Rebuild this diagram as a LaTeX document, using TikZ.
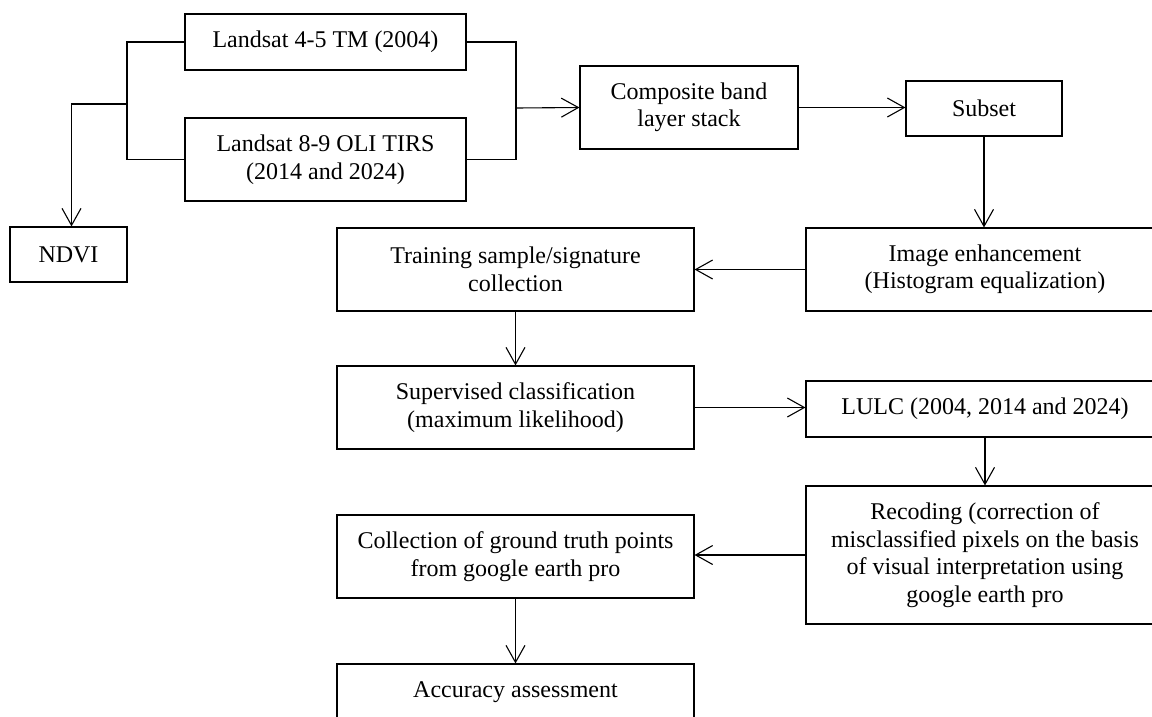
\documentclass[tikz,border=0pt]{standalone}
\usepackage{fontspec}
\setmainfont{Liberation Serif}
\usetikzlibrary{arrows.meta}
\tikzset{
  box/.style={draw=black, line width=1.1pt, rectangle, inner sep=0pt, align=center,
    font=\fontsize{24}{27.5}\selectfont, text=black},
  conn/.style={draw=black, line width=1.1pt},
  arr/.style={conn, -{Straight Barb[length=17pt,width=19pt,line width=1.1pt]}}
}
\begin{document}
\begin{tikzpicture}[x=1pt,y=-1pt]
\clip (0,0) rectangle (1152,716);
\fill[white] (0,0) rectangle (1152,716);
% boxes
\node[box, minimum width=281pt, minimum height=56pt] (l45) at (325.5,42) {Landsat 4-5 TM (2004)};
\node[box, minimum width=281pt, minimum height=83pt] (l89) at (325.5,159.5) {Landsat 8-9 OLI TIRS\\(2014 and 2024)};
\node[box, minimum width=117pt, minimum height=55pt] (ndvi) at (68.5,254.5) {NDVI};
\node[box, minimum width=218pt, minimum height=83pt] (comp) at (689,107.5) {Composite band\\layer stack};
\node[box, minimum width=156pt, minimum height=55pt] (subset) at (984,108.5) {Subset};
\node[box, minimum width=358pt, minimum height=83pt] (enh) at (985,269.5) {Image enhancement\\(Histogram equalization)};
\node[box, minimum width=357pt, minimum height=83pt] (train) at (515.5,269.5) {Training sample/signature\\collection};
\node[box, minimum width=357pt, minimum height=83pt] (sup) at (515.5,407.5) {Supervised classification\\(maximum likelihood)};
\node[box, minimum width=358pt, minimum height=56pt] (lulc) at (985,409) {LULC (2004, 2014 and 2024)};
\node[box, minimum width=358pt, minimum height=138pt] (rec) at (985,555) {Recoding (correction of\\misclassified pixels on the basis\\of visual interpretation using\\google earth pro};
\node[box, minimum width=357pt, minimum height=83pt] (coll) at (515.5,556.5) {Collection of ground truth points\\from google earth pro};
\node[box, minimum width=357pt, minimum height=56pt] (acc) at (515.5,692) {Accuracy assessment};
% bracket coordinates
\coordinate (bl) at (127,104);
\coordinate (br) at (516,108);
% connectors
\draw[conn] (l45.west) -| (bl) |- (l89.west);
\draw[arr] (bl) -| ([xshift=3pt]ndvi.north);
\draw[conn] (l45.east) -| (br);
\draw[conn] (l89.east) -| (br);
\draw[arr] (br) -- (comp.west);
\draw[arr] (comp.east) -- (comp.east -| subset.west);
\draw[arr] (subset.south) -- (subset.south |- enh.north);
\draw[arr] (enh.west) -- (train.east);
\draw[arr] (train.south) -- (sup.north);
\draw[arr] (sup.east) -- (sup.east -| lulc.west);
\draw[arr] (lulc.south) -- (lulc.south |- rec.north);
\draw[arr] (rec.west) -- (rec.west -| coll.east);
\draw[arr] (coll.south) -- (acc.north);
\end{tikzpicture}
\end{document}
